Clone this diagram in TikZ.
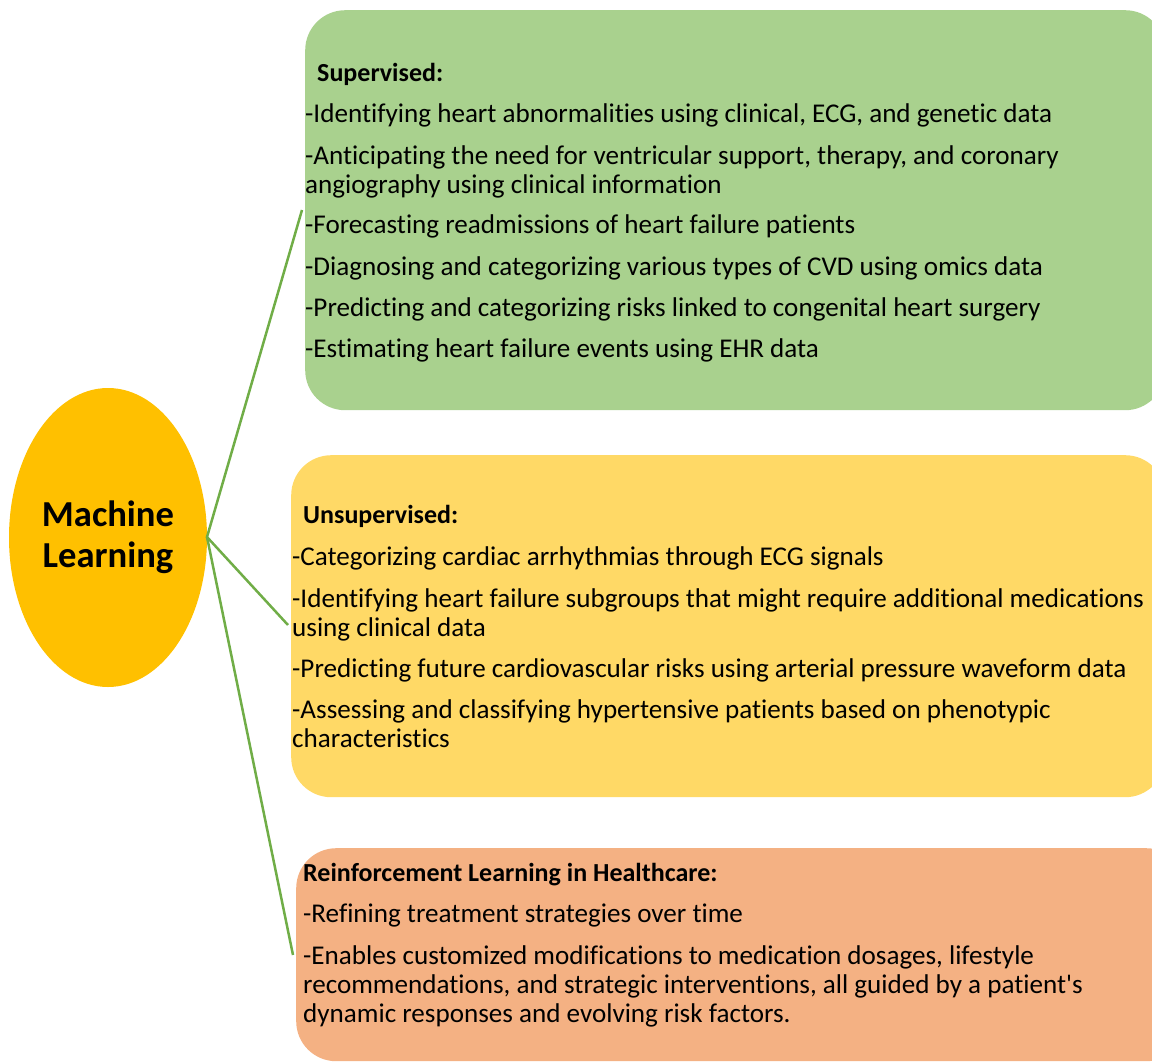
\documentclass[tikz,border=0pt]{standalone}
\usepackage{fontspec}
\setmainfont{Carlito}[Ligatures={NoCommon}]
\usetikzlibrary{shapes.geometric}
\definecolor{boxgreen}{HTML}{A9D18E}
\definecolor{boxyellow}{HTML}{FFD966}
\definecolor{boxorange}{HTML}{F4B183}
\definecolor{mlgold}{HTML}{FFC000}
\definecolor{linkgreen}{HTML}{70AD47}
\tikzset{
  panel/.style={draw=none, rounded corners=40pt, inner sep=0pt, anchor=north west},
  head/.style={anchor=base west, inner sep=0pt, font=\fontsize{26}{29}\selectfont\bfseries},
  body/.style={anchor=base west, inner sep=0pt, font=\fontsize{27.1}{29}\selectfont},
  link/.style={draw=linkgreen, line width=2.5pt},
}
\begin{document}
\begin{tikzpicture}[x=1pt,y=-1pt]
\useasboundingbox (0,0) rectangle (1152,1061);
\clip (0,0) rectangle (1152,1061);
% panels
\node[panel, fill=boxgreen, minimum width=860pt, minimum height=400pt] (pg) at (305,10) {};
\node[panel, fill=boxyellow, minimum width=874pt, minimum height=342pt] (py) at (291,455) {};
\node[panel, fill=boxorange, minimum width=890pt, minimum height=213pt] (po) at (296,848) {};
% hub
\node[ellipse, fill=mlgold, minimum width=198pt, minimum height=299pt, inner sep=0pt,
      align=center, font=\fontsize{36.6}{41}\selectfont\bfseries] (ml) at (108,537.5) {Machine\\Learning};
% link end points
\coordinate (hub) at (207,537);
\coordinate (eg) at (302,210);
\coordinate (ey) at (288,625);
\coordinate (eo) at (293,955);
\draw[link] (eg) -- (hub) -- (ey);
\draw[link] (hub) -- (eo);
% supervised
\node[head] (g0) at (317,81) {Supervised:};
\node[body] (g1) at (305,122) {-Identifying heart abnormalities using clinical, ECG, and genetic data};
\node[body] (g2) at (305,164) {-Anticipating the need for ventricular support, therapy, and coronary};
\node[body] (g3) at (305,193) {angiography using clinical information};
\node[body] (g4) at (305,233) {-Forecasting readmissions of heart failure patients};
\node[body] (g5) at (305,275) {-Diagnosing and categorizing various types of CVD using omics data};
\node[body] (g6) at (305,316) {-Predicting and categorizing risks linked to congenital heart surgery};
\node[body] (g7) at (305,357) {-Estimating heart failure events using EHR data};
% unsupervised
\node[head] (y0) at (303,523) {Unsupervised:};
\node[body] (y1) at (292,565) {-Categorizing cardiac arrhythmias through ECG signals};
\node[body] (y2) at (292,607) {-Identifying heart failure subgroups that might require additional medications};
\node[body] (y3) at (292,636) {using clinical data};
\node[body] (y4) at (292,677) {-Predicting future cardiovascular risks using arterial pressure waveform data};
\node[body] (y5) at (292,718) {-Assessing and classifying hypertensive patients based on phenotypic};
\node[body] (y6) at (292,747) {characteristics};
% reinforcement
\node[head] (o0) at (303,881) {Reinforcement Learning in Healthcare:};
\node[body] (o1) at (303,922) {-Refining treatment strategies over time};
\node[body] (o2) at (303,964) {-Enables customized modifications to medication dosages, lifestyle};
\node[body] (o3) at (303,993) {recommendations, and strategic interventions, all guided by a patient\textquotesingle s};
\node[body] (o4) at (303,1022) {dynamic responses and evolving risk factors.};
\end{tikzpicture}
\end{document}
